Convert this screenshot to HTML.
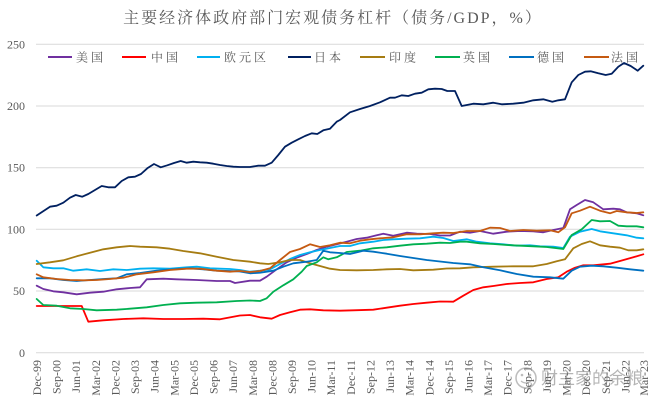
<!DOCTYPE html>
<html><head><meta charset="utf-8"><style>
html,body{margin:0;padding:0;background:#fff;}
svg{display:block;}
.t{font-family:"Liberation Serif","Noto Serif CJK SC",serif;fill:#595959;font-size:12px;}
.c{font-family:"Liberation Serif","Noto Serif CJK SC",serif;fill:#595959;}
polyline{fill:none;stroke-width:1.8;stroke-linejoin:round;stroke-linecap:round;}
</style></head><body>
<svg width="660" height="406" viewBox="0 0 660 406" xmlns="http://www.w3.org/2000/svg">
<rect width="660" height="406" fill="#fff"/>
<text class="c" x="333" y="23" font-size="16" letter-spacing="2" text-anchor="middle">主要经济体政府部门宏观债务杠杆（债务/GDP，%）</text>
<g stroke="#d9d9d9" stroke-width="1">
<line x1="36" y1="44.3" x2="644" y2="44.3"/>
<line x1="36" y1="106" x2="644" y2="106"/>
<line x1="36" y1="167.7" x2="644" y2="167.7"/>
<line x1="36" y1="229.3" x2="644" y2="229.3"/>
<line x1="36" y1="291" x2="644" y2="291"/>
<line x1="36" y1="352.7" x2="644" y2="352.7"/>
</g>
<g class="t" text-anchor="end">
<text x="25" y="48.5">250</text>
<text x="25" y="110">200</text>
<text x="25" y="171.5">150</text>
<text x="25" y="233.5">100</text>
<text x="25" y="295">50</text>
<text x="25" y="357">0</text>
</g>
<g class="t" text-anchor="end">
<text transform="translate(41,360) rotate(-90)">Dec-99</text>
<text transform="translate(60.6,360) rotate(-90)">Sep-00</text>
<text transform="translate(80.2,360) rotate(-90)">Jun-01</text>
<text transform="translate(99.8,360) rotate(-90)">Mar-02</text>
<text transform="translate(119.5,360) rotate(-90)">Dec-02</text>
<text transform="translate(139.1,360) rotate(-90)">Sep-03</text>
<text transform="translate(158.7,360) rotate(-90)">Jun-04</text>
<text transform="translate(178.3,360) rotate(-90)">Mar-05</text>
<text transform="translate(197.9,360) rotate(-90)">Dec-05</text>
<text transform="translate(217.5,360) rotate(-90)">Sep-06</text>
<text transform="translate(237.1,360) rotate(-90)">Jun-07</text>
<text transform="translate(256.8,360) rotate(-90)">Mar-08</text>
<text transform="translate(276.4,360) rotate(-90)">Dec-08</text>
<text transform="translate(296,360) rotate(-90)">Sep-09</text>
<text transform="translate(315.6,360) rotate(-90)">Jun-10</text>
<text transform="translate(335.2,360) rotate(-90)">Mar-11</text>
<text transform="translate(354.8,360) rotate(-90)">Dec-11</text>
<text transform="translate(374.4,360) rotate(-90)">Sep-12</text>
<text transform="translate(394.1,360) rotate(-90)">Jun-13</text>
<text transform="translate(413.7,360) rotate(-90)">Mar-14</text>
<text transform="translate(433.3,360) rotate(-90)">Dec-14</text>
<text transform="translate(452.9,360) rotate(-90)">Sep-15</text>
<text transform="translate(472.5,360) rotate(-90)">Jun-16</text>
<text transform="translate(492.1,360) rotate(-90)">Mar-17</text>
<text transform="translate(511.7,360) rotate(-90)">Dec-17</text>
<text transform="translate(531.4,360) rotate(-90)">Sep-18</text>
<text transform="translate(551,360) rotate(-90)">Jun-19</text>
<text transform="translate(570.6,360) rotate(-90)">Mar-20</text>
<text transform="translate(590.2,360) rotate(-90)">Dec-20</text>
<text transform="translate(609.8,360) rotate(-90)">Sep-21</text>
<text transform="translate(629.4,360) rotate(-90)">Jun-22</text>
<text transform="translate(648,360) rotate(-90)">Mar-23</text>
</g>
<!-- US -->
<polyline stroke="#7030a0" points="36.7,285.7 43.3,289 53.3,291.3 63.3,292.3 76.7,294.3 90,292.7 103.3,291.7 116.7,289.3 130,288 140,287.3 146.7,279.3 163.3,278.7 176.7,279.3 196.7,280 216.7,281 230,281 235,283 250,280.7 260,280.7 266.7,276.7 276.7,269.3 286.7,262.3 296.7,257.7 306.7,254 316.7,250 326.7,246.7 336.7,244.3 346.7,241.7 356.7,239 366.7,237.7 376.7,235.3 383.3,233.7 393.3,235.7 406.7,232.7 416.7,233.7 430,234 440,235.5 450,235.5 460,231.7 470,232.7 480,231 493.3,233.7 506.7,231.7 520,231 533.3,231.3 543.3,232.3 553.3,230 563.3,228 570,209.3 576.7,205 585,200 593.3,202.3 603.3,209.3 613.3,208.7 620,209.3 626.7,212.3 636.7,213.3 643.3,215.3"/>
<!-- China -->
<polyline stroke="#ff0000" points="36.7,306 81.7,306 88.3,321.7 103.3,320.3 123.3,319 143.3,318.3 163.3,319 183.3,319 203.3,318.7 220,319.3 233.3,316.7 240,315.5 250,315 260,317.3 271.7,318.7 280,315 290,312.3 300,309.7 310,309.3 323.3,310.3 340,310.7 353.3,310.3 373.3,309.7 386.7,307.7 400,305.7 413.3,304 426.7,302.7 440,301.5 453.3,301.7 463.3,295.7 473.3,290 483.3,287.3 493.3,286 506.7,284 520,283 533.3,282.3 546.7,279 558.3,277.3 566.7,271.7 575,267.7 583.3,265.3 593.3,265.3 610,263.7 620,261 633.3,257.3 643.3,254.3"/>
<!-- Eurozone -->
<polyline stroke="#00b0f0" points="36.7,260.7 43.3,267.3 53.3,268.3 63.3,268.3 73.3,270.7 86.7,269.3 100,271 113.3,269.3 126.7,270 140,268.7 153.3,268.3 170,268.7 186.7,267.3 196.7,266.7 210,268.3 230,269 240,270 250,271.7 260,270.7 270,269.3 280,264 290,259 300,255 310,252.3 320,250 330,248 340,246 350,246 360,243.3 373.3,241.7 383.3,240 393.3,239.3 406.7,238.7 420,238.3 433.3,236.7 443.3,238 453.3,241 466.7,239.3 476.7,241.7 490,243.3 503.3,244.3 516.7,245.7 530,245.3 540,246.3 553.3,246.7 563.3,248 570,236.7 580,231.7 591.7,229 600,231.3 613.3,233.3 626.7,235.3 636.7,237.7 643.3,238.3"/>
<!-- Japan -->
<polyline stroke="#002060" points="36.7,215.5 50,206.7 56.7,205.7 63.3,202.7 70,197.7 75.7,195 82.3,196.7 88.3,194 95,190 101.7,186 108.3,187.3 115,187.3 121.7,181 128.3,177.3 135,176.7 141,174 147.3,168.3 154,164 160.7,167.3 167.3,165.3 174,163 180.7,161 186.7,162.7 193.3,161.7 200,162.3 206.7,162.7 213.3,163.7 220,165 226.7,166 233.3,166.7 240,167 250,167 258.3,165.7 265,165.7 271.7,162.7 278.3,155 285,146.7 291.7,142.7 298.3,139.3 305,136 311.7,133.3 317.3,134 323.3,130.3 330,128.7 336.7,121.7 340,120 350,112.3 360,109 370,106 380,102.3 390,97.7 395,97.7 401.7,95.3 408.3,96 415,93.7 421.7,92.7 428.3,89.3 435,88.7 441.7,89 447.3,91 455,91 461.7,106 473.3,103.7 483.3,104.3 493.3,102.7 501.7,104.3 513.3,103.7 523.3,102.7 533.3,100.3 543.3,99.3 552.3,101.7 558.3,100.3 565,99.3 571.7,82.3 578.3,75 585,71.7 590.7,71.3 598.3,73.3 605.7,75 611.7,73.7 618.3,66.7 624,63 630.7,66 637.7,70.7 643.3,65.7"/>
<!-- India -->
<polyline stroke="#a67c12" points="36.7,264 50,262.3 63.3,260.3 76.7,256.3 90,252.7 103.3,249.3 116.7,247.3 130,246 140,246.7 156.7,247.3 170,248.7 183.3,251 200,253.3 216.7,256.7 233.3,260 250,261.7 260,263.3 268.3,264 280,262.3 290,260 300,260 310,263.3 320,266 330,268.7 340,270 356.7,270.3 373.3,270 386.7,269.3 400,269 413.3,270.3 433.3,269.7 446.7,268.5 460,268.3 473.3,267.3 493.3,266.7 513.3,266.3 533.3,266.3 546.7,264 556.7,261.3 565,259.3 573.3,248.3 581.7,244 590,241.3 600,245.3 610,246.7 620,247.7 628.3,250.3 636.7,250.3 643.3,249.3"/>
<!-- UK -->
<polyline stroke="#00b050" points="36.7,299 43.3,305 56.7,305.7 70,308.3 83.3,309 96.7,310.3 116.7,309.7 130,308.7 146.7,307.3 163.3,305 180,303.3 196.7,302.7 216.7,302.3 236.7,301 250,300.5 260,301 266.7,298.3 273.3,291.7 283.3,285.3 293.3,279.3 301.7,271.7 306.7,266 316.7,262.3 323.3,257.3 328.3,259.3 336.7,257.3 346.7,252 360,250.7 373.3,248.3 386.7,247.3 400,245.7 413.3,244.3 426.7,243.7 440,242.7 450,243 460,241.7 466.7,241.7 480,243.3 493.3,244 506.7,245 520,245.7 533.3,246.3 546.7,247 563.3,249 571.7,235 581.7,229.3 591.7,220 600,221.3 610,221 618.3,225.7 626.7,226.3 636.7,226.3 643.3,227.3"/>
<!-- Germany -->
<polyline stroke="#0070c0" points="36.7,278.3 50,278.3 63.3,280 76.7,281 90,280 103.3,279 116.7,278.3 126.7,274.3 140,273 156.7,270.7 173.3,269.3 190,268.3 203.3,269.3 216.7,270.7 230,271 240,271.5 250,273.3 260,272.7 273.3,270.7 283.3,266.7 293.3,263.3 306.7,261.7 316.7,260 323.3,250.7 330,252.3 340,253 350,254 363.3,250.7 373.3,251.7 386.7,253.7 400,256 413.3,258 426.7,260 440,261.5 453.3,263 470,264.3 483.3,267.3 500,270.3 516.7,274 533.3,276.7 550,277.3 563.3,278.7 571.7,270.7 580,266.7 591.7,265.7 603.3,266.3 616.7,267.7 630,269.3 643.3,270.7"/>
<!-- France -->
<polyline stroke="#c55a11" points="36.7,274.3 43.3,277.3 56.7,279 70,280 83.3,280.3 96.7,280 110,279 123.3,277.7 136.7,274.3 153.3,272.3 170,270 186.7,268.7 200,268.7 216.7,270.7 230,271.7 240,271 250,272 260,271 270,268.3 280,260 290,252 300,249 310,244.3 320,247 330,245.3 340,242.7 350,243.3 360,240.7 370,239.3 380,238.3 393.3,237.3 406.7,234.3 420,234.3 433.3,233.3 443.3,232.7 453.3,233 466.7,231 480,231 490,227.7 500,228 510,231 523.3,230 536.7,230.7 550,230.3 558.3,232.3 565,227.3 571.7,213.3 580,210.7 590,206.7 600,210.7 610,213.3 616.7,211 626.7,212.3 636.7,213 643.3,212.3"/>
<!-- Legend -->
<g stroke-width="2">
<line x1="48" y1="57" x2="72" y2="57" stroke="#7030a0"/>
<line x1="122" y1="57" x2="146" y2="57" stroke="#ff0000"/>
<line x1="197" y1="57" x2="220" y2="57" stroke="#00b0f0"/>
<line x1="288" y1="57" x2="311" y2="57" stroke="#002060"/>
<line x1="360" y1="57" x2="385" y2="57" stroke="#a67c12"/>
<line x1="435" y1="57" x2="460" y2="57" stroke="#00b050"/>
<line x1="509" y1="57" x2="534" y2="57" stroke="#0070c0"/>
<line x1="584" y1="57" x2="609" y2="57" stroke="#c55a11"/>
</g>
<g class="c" font-size="12" letter-spacing="3">
<text x="76" y="61.5">美国</text>
<text x="151" y="61.5">中国</text>
<text x="224" y="61.5">欧元区</text>
<text x="314" y="61.5">日本</text>
<text x="389" y="61.5">印度</text>
<text x="463" y="61.5">英国</text>
<text x="537" y="61.5">德国</text>
<text x="611" y="61.5">法国</text>
</g>
<!-- Watermark -->
<g opacity="0.55">
<circle cx="526" cy="378" r="10" fill="none" stroke="#888" stroke-width="1.5"/>
<circle cx="522" cy="375" r="1.3" fill="#888"/>
<circle cx="530" cy="375" r="1.3" fill="#888"/>
<path d="M521,381 Q526,385 531,381" fill="none" stroke="#888" stroke-width="1.2"/>
<text x="541" y="384" font-size="17" fill="#777" font-family="'Noto Sans CJK SC',sans-serif">财主家的余粮</text>
</g>
</svg>
</body></html>
